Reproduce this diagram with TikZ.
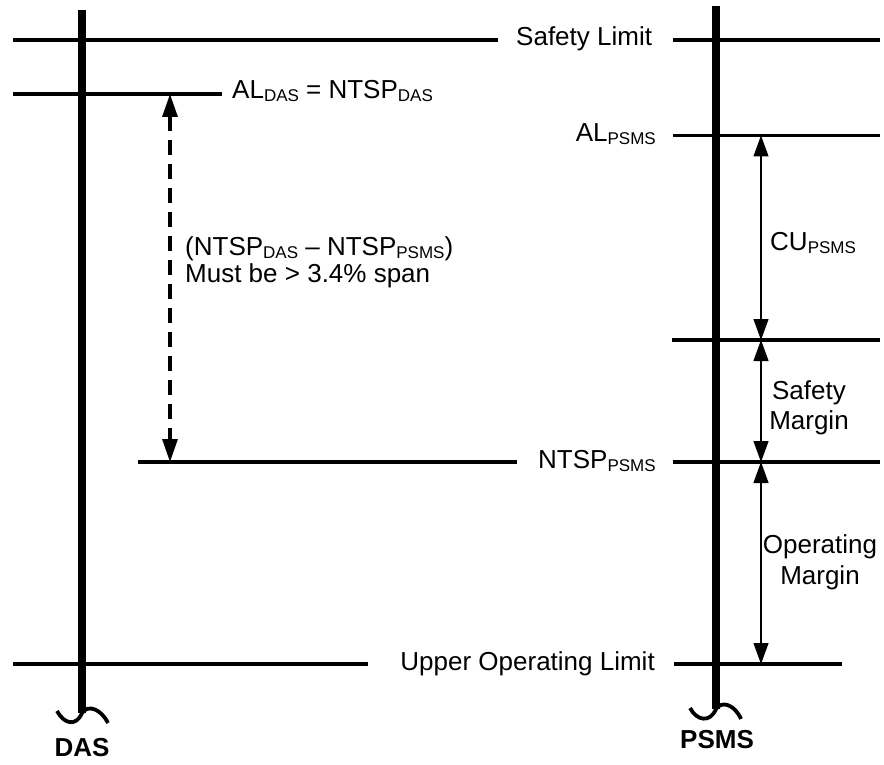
\documentclass[tikz,border=0pt]{standalone}
\usepackage{fontspec}
\setmainfont{Liberation Sans}
\usetikzlibrary{arrows.meta}
\newcommand\lowsub[1]{\raisebox{-3pt}{\fontsize{17}{17}\selectfont #1}}
\begin{document}
\begin{tikzpicture}[x=1pt,y=-1pt,
  hline/.style={line width=3.2pt},
  axis/.style={line width=8pt},
  dim/.style={line width=1.2pt, {Triangle[length=21pt,width=15pt]}-{Triangle[length=21pt,width=15pt]}},
  ddim/.style={line width=3.2pt, dash pattern=on 15pt off 9pt, {Triangle[length=23pt,width=15pt]}-{Triangle[length=23pt,width=15pt]}},
  lbl/.style={inner sep=0pt, font=\fontsize{26}{29}\selectfont},
  axlbl/.style={inner sep=0pt, font=\fontsize{26}{29}\selectfont\bfseries},
  wave/.style={line width=3.8pt}]
\useasboundingbox (0,0) rectangle (884,765);

% axes
\coordinate (dasTop) at (82,10);
\coordinate (dasBot) at (82,713);
\coordinate (psTop) at (716,6);
\coordinate (psBot) at (716,709);
\draw[axis] (dasTop) -- (dasBot);
\draw[axis] (psTop) -- (psBot);
\coordinate (dasW1) at (57,711);
\coordinate (dasW2) at (108,723);
\coordinate (psW1) at (690,708);
\coordinate (psW2) at (741,719);
\draw[wave] (dasW1) .. controls (64,724) and (76,727) .. (dasBot) .. controls (88,704) and (101,709) .. (dasW2);
\draw[wave] (psW1) .. controls (697,721) and (710,723) .. (psBot) .. controls (722,700) and (735,705) .. (psW2);
\node[axlbl] (das) at (82,748) {DAS};
\node[axlbl] (psms) at (717,740) {PSMS};

% Safety Limit
\coordinate (sl1) at (13,40); \coordinate (sl2) at (498,40);
\coordinate (sl3) at (673,40); \coordinate (sl4) at (880,40);
\draw[hline] (sl1) -- (sl2);
\draw[hline] (sl3) -- (sl4);
\node[lbl, anchor=base west] (slT) at (516,46) {Safety Limit};

% AL DAS
\coordinate (ad1) at (13,94); \coordinate (ad2) at (222,94);
\draw[hline] (ad1) -- (ad2);
\node[lbl, anchor=base west] (adT) at (232,99) {AL\lowsub{DAS} = NTSP\lowsub{DAS}};

% AL PSMS
\coordinate (ap1) at (673,135.5); \coordinate (ap2) at (880,135.5);
\draw[hline] (ap1) -- (ap2);
\node[lbl, anchor=base east] (apT) at (656,142) {AL\lowsub{PSMS}};

% CU line
\coordinate (cu1) at (672,340); \coordinate (cu2) at (880,340);
\draw[hline] (cu1) -- (cu2);

% NTSP PSMS
\coordinate (np1) at (138,462); \coordinate (np2) at (517,462);
\coordinate (np3) at (673,462); \coordinate (np4) at (880,462);
\draw[hline] (np1) -- (np2);
\draw[hline] (np3) -- (np4);
\node[lbl, anchor=base west] (npT) at (538,468) {NTSP\lowsub{PSMS}};

% Upper Operating Limit
\coordinate (ul1) at (13,664); \coordinate (ul2) at (368,664);
\coordinate (ul3) at (674,664); \coordinate (ul4) at (842,664);
\draw[hline] (ul1) -- (ul2);
\draw[hline] (ul3) -- (ul4);
\node[lbl, anchor=base east] (ulT) at (655,670) {Upper Operating Limit};

% dashed difference arrow
\coordinate (dA) at (170,94); \coordinate (dB) at (170,462);
\draw[ddim] (dA) -- (dB);
\node[lbl, anchor=west, align=left, font=\fontsize{26}{27}\selectfont] (diffT) at (185,262)
  {(NTSP\lowsub{DAS} – NTSP\lowsub{PSMS})\\Must be > 3.4\% span};

% PSMS dimension arrows
\coordinate (m1) at (761,135.5); \coordinate (m2) at (761,340);
\coordinate (m3) at (761,462); \coordinate (m4) at (761,664);
\draw[dim] (m1) -- (m2);
\draw[dim] (m2) -- (m3);
\draw[dim] (m3) -- (m4);
\node[lbl, anchor=base west] (cuT) at (770,250) {CU\lowsub{PSMS}};
\node[lbl, align=center, font=\fontsize{26}{30}\selectfont] (smT) at (809,408) {Safety\\Margin};
\node[lbl, align=center, font=\fontsize{26}{31}\selectfont] (omT) at (820,562) {Operating\\Margin};
\end{tikzpicture}
\end{document}
